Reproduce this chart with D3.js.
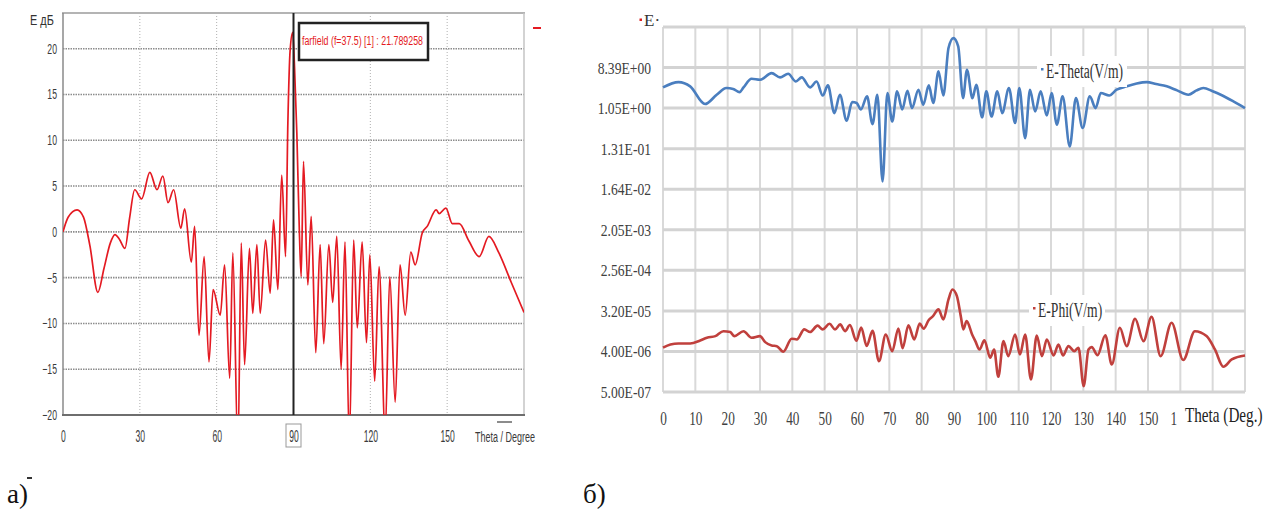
<!DOCTYPE html>
<meta charset="utf-8">
<style>
  body { margin: 0; background: #fff; }
  svg { display: block; font-family: "Liberation Sans", Arial, sans-serif; }
  .serif { font-family: "Liberation Serif", "Times New Roman", serif; }
</style>
<svg width="1271" height="515"></svg>
<script src="https://d3js.org/d3.v7.min.js"></script>
<script>
// ---- panel a: CST farfield cut, dB ----
var farTheta = [0,2,5.5,8,10.5,13.6,16,18.5,20.3,22,24.2,26,28,30.7,33.9,36.7,39,41,43.2,46,
  47.5,50.1,51.4,53.1,55.1,57,58.6,61.4,63.1,65.1,66.3,68.3,69.6,70.9,72.8,74.1,75.7,77,79.1,80.9,
  82.2,83.9,85.4,86.9,87.8,88.7,89.7,90.4,91.3,92.3,93,93.9,95.6,96.9,98.7,100.4,101.8,103.8,105.3,106.9,
  108.6,110.1,111.8,113.5,114.9,116.8,118.5,119.8,121.7,123.4,125.8,127.6,129.7,131.6,133.6,135.8,137.5,140.3,142.2,145.7,
  146.9,149.5,152,154.7,158.5,162.5,166.3,170.2,175,180];
var farDb = [0,1.6,2.4,1.6,-1.5,-6.6,-4,-1.2,-0.3,-0.8,-1.8,1.5,4.6,3.6,6.5,4.6,6.1,3.2,4.6,0.4,
  2.5,-3.3,0.6,-11.3,-2.7,-14.2,-6.3,-9.1,-3.6,-16,-2.3,-24,-1.2,-14.5,-1.8,-8.9,-1.4,-8.9,-0.9,-6.7,
  1.3,-6.3,6.2,-2.7,11.9,19.9,21.8,18,10.8,-0.1,-4.9,7.7,-5.8,1.7,-13.2,-1.4,-12.2,-1.4,-7.7,-0.5,
  -15,-1.1,-23,-0.9,-10.5,-1.1,-12.1,-2.5,-16.3,-3.8,-22,-4.9,-18.6,-3.6,-9.1,-2.2,-3.6,-0.1,0.6,2.4,
  2.0,2.6,0.9,0.9,-1.0,-2.7,-0.5,-2.3,-5.5,-8.8];
var aXTicks = [0,30,60,90,120,150];
var aYTicks = [-20,-15,-10,-5,0,5,10,15,20];
var markerTheta = 90;
var markerText = "farfield (f=37.5) [1] : 21.789258";

// ---- panel b: E-Theta and E-Phi, V/m, log axis ----
var thTheta = [0,4.8,8.4,13,16.6,19.6,21.7,23.7,24.9,27.4,30,33.6,36.2,38.7,41.1,42.9,45.5,47.5,49.4,51,
  53,54.7,56.8,58.5,59.9,61.2,63.1,64.8,66.3,67.9,69.4,70.9,72.4,74,75.6,77,79,80.5,82.2,83.6,
  85.2,86.7,88.3,89.8,91.3,92.8,94,95.7,96.9,98.7,100,101.6,103.4,104.9,107,108.9,110.2,112,113.5,115.1,
  116.8,118.7,120.2,121.8,123.6,125.8,127.7,129.8,132,133.8,135.4,138,140.3,143.4,146.5,149.6,152.5,155.8,159,162.5,
  165,167.1,170,173,176.4,180];
var eTheta = [3.03,3.98,3.2,1.29,2.08,2.93,2.8,2.38,3.03,4.72,4.48,6.3,5.07,6.1,4.1,5.07,3.03,4.1,2.0,3.36,
  0.81,2.08,0.55,1.43,1.36,0.98,1.91,0.46,2.08,0.0245,2.27,0.53,2.47,0.98,2.55,1.05,2.69,1.24,3.36,1.36,
  6.9,2.0,22.8,38,24.8,1.75,7.5,1.75,3.47,0.65,2.47,0.68,2.47,0.81,2.93,0.49,2.93,0.225,2.69,0.88,
  2.47,0.72,2.27,0.45,1.91,0.147,1.75,0.377,1.91,1.05,2.27,2.0,2.69,3.2,3.7,3.98,3.6,3.2,2.6,2.08,
  2.6,2.93,2.5,2.0,1.48,1.05];
var phTheta = [0,2.3,4.8,8.4,11.5,13.6,16.2,18.7,20.8,22,24.9,27.4,30,31.6,33.6,35.2,37.2,39.8,41.4,43.7,
  45.5,47.8,49.4,51.5,53.2,54.8,56.3,57.8,59.8,61.3,63,64.8,66.8,68.9,70.9,72.8,74.1,75.9,77.7,79.4,
  80.6,82.2,83.5,85.2,86.7,88.3,89.5,90.9,92.1,92.9,93.9,95.6,96.6,97.9,99.4,101.2,102.4,103.7,105.3,106.8,
  108.9,110.4,112,113.8,115.6,117.2,118.7,120.8,122.3,123.7,125.4,127.2,128.5,130.1,131.6,132.6,134.4,136.8,138.8,141.3,
  143.4,146,148.6,151.1,153.9,157.3,160.9,164.5,168.1,170.7,173.3,175.9,180];
var ePhi = [4.84e-6,5.73e-6,6.03e-6,6.03e-6,7.03e-6,8.07e-6,8.78e-6,1.13e-5,1.08e-5,8.78e-6,1.13e-5,8.07e-6,8.78e-6,6.45e-6,5.44e-6,5.25e-6,3.94e-6,7.67e-6,7.4e-6,1.24e-5,
  1.08e-5,1.5e-5,1.24e-5,1.65e-5,1.24e-5,1.6e-5,1.13e-5,1.55e-5,6.9e-6,1.37e-5,5.3e-6,1.15e-5,2.43e-6,9.56e-6,4.06e-6,1.3e-5,4.7e-6,1.52e-5,7.4e-6,1.67e-5,
  1.28e-5,2.0e-5,2.44e-5,3.45e-5,2.06e-5,5.75e-5,9.6e-5,6.8e-5,2.44e-5,1.24e-5,1.89e-5,9.56e-6,6.78e-6,4.42e-6,7.1e-6,2.9e-6,4.42e-6,1.09e-6,6.78e-6,3.14e-6,
  9.56e-6,3.43e-6,9.56e-6,9.5e-7,9.0e-6,3.14e-6,7.4e-6,3.25e-6,5.73e-6,3.25e-6,5.25e-6,4.06e-6,4.84e-6,6.75e-7,4.42e-6,5.0e-6,3.3e-6,9.2e-6,2.05e-6,1.35e-5,
  5.25e-6,2.14e-5,6.78e-6,2.37e-5,3.14e-6,1.74e-5,2.57e-6,1.13e-5,8.78e-6,4.42e-6,1.82e-6,2.65e-6,3.25e-6];
var bXGrid = [0,10,20,30,40,50,60,70,80,90,100,110,120,130,140,150,160,170,180];
// the 160 label is cut to "1" by the axis title in the source, 170 is hidden
var bXTicks = [0,10,20,30,40,50,60,70,80,90,100,110,120,130,140,150,160];
var bXTickText = ["0","10","20","30","40","50","60","70","80","90","100","110","120","130","140","150","1"];
var bYTicks = [5e-7,4e-6,3.2e-5,2.56e-4,2.048e-3,1.6384e-2,0.131072,1.048576,8.388608];
var bYTop = 67.108864;

var svg = d3.select("svg");

// excel style 0.00E+00
function fmtE(v) {
  var e = Math.floor(Math.log10(v));
  var m = v / Math.pow(10, e);
  if (+m.toFixed(2) >= 10) { m /= 10; e += 1; }
  return m.toFixed(2) + "E" + (e < 0 ? "-" : "+") + String(Math.abs(e)).padStart(2, "0");
}

// ================= panel a =================
var xA = d3.scaleLinear().domain([0, 180]).range([63, 524]);
var yA = d3.scaleLinear().domain([-20, 23.9]).range([415, 13]);

svg.append("clipPath").attr("id", "clipA").append("rect")
  .attr("x", 63).attr("y", 13).attr("width", 461).attr("height", 402);

var gA = svg.append("g");

gA.selectAll(".hg").data(aYTicks.filter(function (d) { return d > -20; })).enter().append("line")
  .attr("x1", 63).attr("x2", 524)
  .attr("y1", function (d) { return yA(d); }).attr("y2", function (d) { return yA(d); })
  .attr("stroke", "#8c8c8c").attr("stroke-width", 1.6).attr("stroke-dasharray", "1.5,1");
gA.selectAll(".vg").data(aXTicks.filter(function (d) { return d > 0 && d != markerTheta; })).enter().append("line")
  .attr("x1", function (d) { return xA(d); }).attr("x2", function (d) { return xA(d); })
  .attr("y1", 13).attr("y2", 415)
  .attr("stroke", "#b0b0b0").attr("stroke-width", 1).attr("stroke-dasharray", "1,2");

// frame
gA.append("line").attr("x1", 62).attr("x2", 525).attr("y1", 13).attr("y2", 13).attr("stroke", "#b4b4b4").attr("stroke-width", 2);
gA.append("line").attr("x1", 524).attr("x2", 524).attr("y1", 13).attr("y2", 415).attr("stroke", "#c4c4c4").attr("stroke-width", 1.5);
gA.append("line").attr("x1", 63).attr("x2", 63).attr("y1", 13).attr("y2", 416).attr("stroke", "#8a8a8a").attr("stroke-width", 1.5);
gA.append("line").attr("x1", 62).attr("x2", 525).attr("y1", 415).attr("y2", 415).attr("stroke", "#6e6e6e").attr("stroke-width", 2);

// axes
var axA = gA.append("g").attr("transform", "translate(0,415)")
  .call(d3.axisBottom(xA).tickValues(aXTicks).tickSize(0).tickPadding(15));
axA.select(".domain").remove();
axA.selectAll("text").attr("font-size", 16.5).attr("fill", "#3a3a3a")
  .attr("font-family", "Liberation Sans, Arial, sans-serif").attr("transform", "scale(0.52,1)");

var ayA = gA.append("g").attr("transform", "translate(63,0)")
  .call(d3.axisLeft(yA).tickValues(aYTicks).tickSize(0));
ayA.select(".domain").remove();
ayA.selectAll("text").attr("x", 0).attr("font-size", 14).attr("fill", "#3a3a3a")
  .attr("font-family", "Liberation Sans, Arial, sans-serif").attr("transform", "translate(-6,0) scale(0.62,1)");

// box round the marker tick label
gA.append("rect").attr("x", xA(markerTheta) - 7.5).attr("y", 424).attr("width", 15).attr("height", 23)
  .attr("fill", "none").attr("stroke", "#999").attr("stroke-width", 1);

// curve
var lineA = d3.line()
  .x(function (d) { return xA(d[0]); })
  .y(function (d) { return yA(d[1]); })
  .curve(d3.curveMonotoneX);
gA.append("path").datum(d3.zip(farTheta, farDb))
  .attr("clip-path", "url(#clipA)")
  .attr("fill", "none").attr("stroke", "#e41a22").attr("stroke-width", 1.7)
  .attr("d", lineA);

// marker line and its label
gA.append("line").attr("x1", xA(markerTheta)).attr("x2", xA(markerTheta)).attr("y1", 13).attr("y2", 415)
  .attr("stroke", "#222").attr("stroke-width", 2);
gA.append("rect").attr("x", 299).attr("y", 23).attr("width", 129).attr("height", 37)
  .attr("fill", "#fff").attr("stroke", "#222").attr("stroke-width", 2.5);
gA.append("text").attr("x", 302).attr("y", 45).attr("font-size", 12.5).attr("fill", "#e41a22")
  .attr("textLength", 121).attr("lengthAdjust", "spacingAndGlyphs").text(markerText);

// legend dash, axis names
gA.append("rect").attr("x", 533).attr("y", 27).attr("width", 8).attr("height", 2).attr("fill", "#e41a22");
gA.append("text").attr("transform", "translate(30,25) scale(0.78,1)").attr("font-size", 14).attr("fill", "#333").text("E дБ");
gA.append("text").attr("transform", "translate(475,442) scale(0.6,1)").attr("font-size", 15).attr("fill", "#3a3a3a").text("Theta / Degree");
gA.append("line").attr("x1", 497).attr("x2", 512).attr("y1", 422).attr("y2", 422).attr("stroke", "#666").attr("stroke-width", 1.5);

// ================= panel b =================
var xB = d3.scaleLinear().domain([0, 180]).range([663, 1245]);
var yB = d3.scaleLog().base(8).domain([bYTicks[0], bYTop]).range([392, 27]);

var gB = svg.append("g");

gB.selectAll(".vg").data(bXGrid).enter().append("line")
  .attr("x1", function (d) { return xB(d); }).attr("x2", function (d) { return xB(d); })
  .attr("y1", 27).attr("y2", 392)
  .attr("stroke", "#d9d9d9").attr("stroke-width", 2);
gB.selectAll(".hg").data(bYTicks.concat([bYTop])).enter().append("line")
  .attr("x1", 663).attr("x2", 1245)
  .attr("y1", function (d) { return yB(d); }).attr("y2", function (d) { return yB(d); })
  .attr("stroke", "#d3d3d3").attr("stroke-width", 3);

var axB = gB.append("g").attr("transform", "translate(0,392)")
  .call(d3.axisBottom(xB).tickValues(bXTicks)
    .tickFormat(function (d, i) { return bXTickText[i]; })
    .tickSize(0).tickPadding(20));
axB.select(".domain").remove();
axB.selectAll("text").attr("font-size", 19).attr("fill", "#404040").attr("class", "serif")
  .attr("dx", function (d) { return d === 160 ? -10 : 0; })
  .attr("transform", "scale(0.7,1)");

var ayB = gB.append("g").attr("transform", "translate(663,0)")
  .call(d3.axisLeft(yB).tickValues(bYTicks).tickFormat(fmtE).tickSize(0));
ayB.select(".domain").remove();
ayB.selectAll("text").attr("x", 0).attr("font-size", 17).attr("fill", "#404040").attr("class", "serif")
  .attr("transform", "translate(-12,0) scale(0.8,1)");

var lineB = d3.line()
  .x(function (d) { return xB(d[0]); })
  .y(function (d) { return yB(d[1]); })
  .curve(d3.curveMonotoneX);
gB.append("path").datum(d3.zip(thTheta, eTheta))
  .attr("fill", "none").attr("stroke", "#4a7ebf").attr("stroke-width", 2.6)
  .attr("stroke-linejoin", "round").attr("d", lineB);
gB.append("path").datum(d3.zip(phTheta, ePhi))
  .attr("fill", "none").attr("stroke", "#c0403d").attr("stroke-width", 2.6)
  .attr("stroke-linejoin", "round").attr("d", lineB);

// series labels
function seriesLabel(x, y, w, txt, col) {
  gB.append("rect").attr("x", x - 9).attr("y", y - 22).attr("width", w).attr("height", 31).attr("fill", "#fff");
  gB.append("rect").attr("x", x - 5).attr("y", y - 10).attr("width", 2.5).attr("height", 2.5).attr("fill", col);
  gB.append("text").attr("class", "serif").attr("transform", "translate(" + x + "," + y + ") scale(0.68,1)")
    .attr("font-size", 20).attr("fill", "#333").text(txt);
}
seriesLabel(1046, 78, 90, "E-Theta(V/m)", "#4a7ebf");
seriesLabel(1038, 317, 76, "E-Phi(V/m)", "#c0403d");

// axis titles
gB.append("rect").attr("x", 639.5).attr("y", 18.5).attr("width", 2.5).attr("height", 2.5).attr("fill", "#d22");
gB.append("text").attr("class", "serif").attr("x", 644).attr("y", 26).attr("font-size", 17).attr("fill", "#333").text("E·");
gB.append("text").attr("class", "serif").attr("transform", "translate(1185,422) scale(0.69,1)")
  .attr("font-size", 22).attr("fill", "#222").text("Theta (Deg.)");

// panel letters
svg.append("text").attr("class", "serif").attr("x", 7).attr("y", 503).attr("font-size", 27).attr("fill", "#111").text("a)");
svg.append("rect").attr("x", 27).attr("y", 477).attr("width", 5).attr("height", 2).attr("fill", "#333");
svg.append("text").attr("class", "serif").attr("x", 583).attr("y", 503).attr("font-size", 27).attr("fill", "#111").text("б)");
</script>
